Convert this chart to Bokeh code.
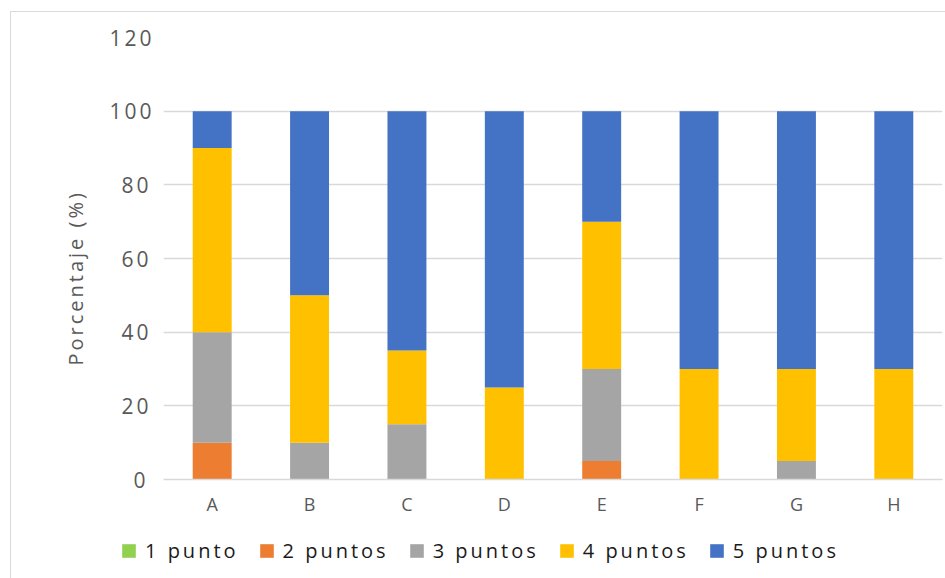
from bokeh.plotting import figure
from bokeh.layouts import column
from bokeh.models import ColumnDataSource, FactorRange, Range1d, Legend, LegendItem, SingleIntervalTicker, Title
from bokeh.embed import file_html
from bokeh.resources import INLINE

categories = ["A", "B", "C", "D", "E", "F", "G", "H"]
p1 = [0, 0, 0, 0, 0, 0, 0, 0]
p2 = [10, 0, 0, 0, 5, 0, 0, 0]
p3 = [30, 10, 15, 0, 25, 0, 5, 0]
p4 = [50, 40, 20, 25, 40, 30, 25, 30]
p5 = [10, 50, 65, 75, 30, 70, 70, 70]
series_names = ["1 punto", "2 puntos", "3 puntos", "4 puntos", "5 puntos"]
colors = ["#92D050", "#ED7D31", "#A5A5A5", "#FFC000", "#4472C4"]
keys = ["p1", "p2", "p3", "p4", "p5"]
y_title = "Porcentaje (%)"

source = ColumnDataSource(dict(cat=categories, p1=p1, p2=p2, p3=p3, p4=p4, p5=p5))

FONT = "Open Sans"
GREY = "#595959"

p = figure(width=934, height=512, x_range=FactorRange(*categories, range_padding=0),
           y_range=Range1d(0, 120), output_backend="svg", toolbar_location=None,
           min_border_left=152, min_border_right=3, min_border_top=25, min_border_bottom=45)
p.frame_align = False
p.outline_line_color = None
p.background_fill_color = "white"
p.border_fill_color = "white"

renderers = p.vbar_stack(keys, x="cat", width=0.4, color=colors, source=source, line_color=None)

p.yaxis.ticker = SingleIntervalTicker(interval=20)
p.ygrid.grid_line_color = "#D9D9D9"
p.ygrid.grid_line_width = 1.5
p.xgrid.grid_line_color = None

for ax in (p.xaxis, p.yaxis):
    ax.axis_line_color = None
    ax.major_tick_line_color = None
    ax.minor_tick_line_color = None
    ax.major_label_text_font = FONT
    ax.major_label_text_color = GREY
    ax.major_label_text_font_size = "21px"

p.xaxis.axis_line_color = "#D9D9D9"
p.xaxis.axis_line_width = 1.5
p.xaxis.major_label_standoff = 6
p.xaxis.major_label_text_font_size = "18px"
p.yaxis.major_label_standoff = 12

ytitle = Title(text=y_title, align="left", offset=114, standoff=35,
               text_font=FONT, text_font_style="normal", text_color=GREY, text_font_size="20px")
p.add_layout(ytitle, "left")

# legend strip below the chart (its bars sit outside the visible y range)
lg = figure(width=934, height=54, x_range=FactorRange(*categories), y_range=Range1d(500, 501),
            x_axis_type=None, y_axis_type=None, output_backend="svg", toolbar_location=None,
            min_border=0)
lg.frame_align = False
lg.outline_line_color = None
lg.xgrid.grid_line_color = None
lg.ygrid.grid_line_color = None
lg.border_fill_color = "white"
lg.background_fill_color = "white"
lg_renderers = lg.vbar_stack(keys, x="cat", width=0.4, color=colors, source=source, line_color=None)
items = [LegendItem(label=n, renderers=[r]) for n, r in zip(series_names, lg_renderers)]
legend = Legend(items=items, orientation="horizontal", location=(109, 14),
                label_text_font=FONT, label_text_font_size="20px", label_text_color="#1A1A1A",
                glyph_width=17, glyph_height=17, label_standoff=8, spacing=19,
                label_width=0, padding=0, margin=0, border_line_color=None,
                background_fill_alpha=0)
lg.add_layout(legend)

layout = column(p, lg, spacing=0)
layout.styles = {"margin-left": "10px", "margin-top": "11px", "letter-spacing": "3px",
                 "border-left": "1px solid #D9D9D9", "border-top": "1px solid #D9D9D9"}

open("out.html", "w").write(file_html(layout, INLINE))
